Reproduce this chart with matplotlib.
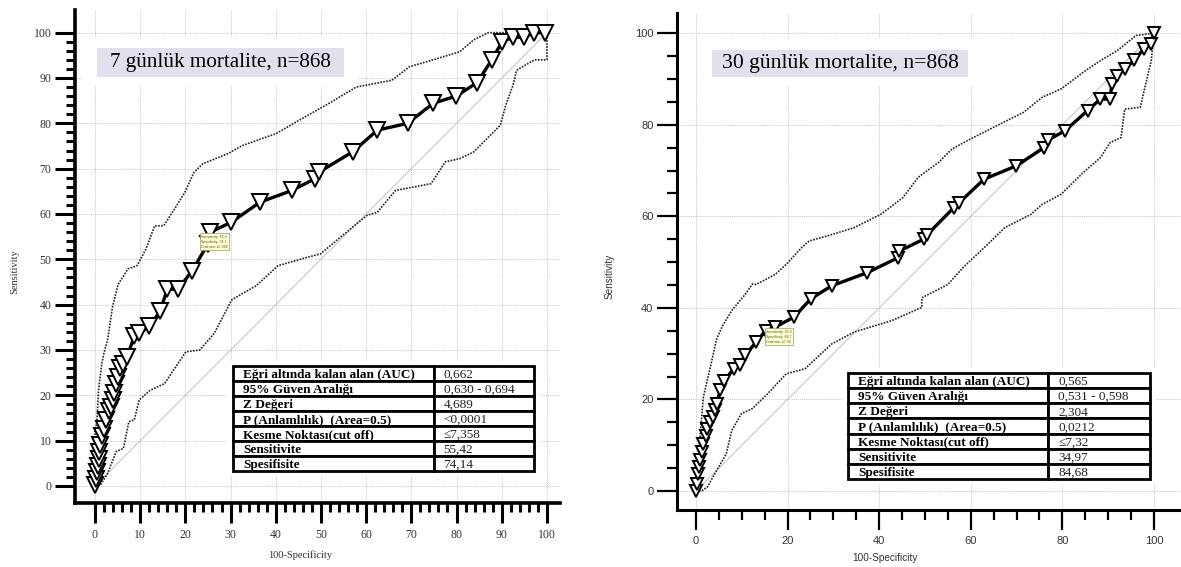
import numpy as np
import matplotlib
matplotlib.use('Agg')
import matplotlib.pyplot as plt
from matplotlib.patches import Rectangle
from matplotlib.ticker import MultipleLocator

# ---- 7 day ROC (x = 100-Specificity, y = Sensitivity) ----
roc7_x = [0, 0.2, 0.4, 0.6, 0.8, 1.0, 1.2, 1.6, 2.0, 2.4, 3.1, 3.5, 3.9, 4.3, 4.7, 5.1, 5.5,
          6.3, 7.1, 8.7, 9.8, 12.0, 14.4, 16.0, 18.4, 21.5, 25.0, 25.5, 30.2, 36.5, 43.6,
          48.7, 49.5, 57.0, 62.5, 69.2, 74.8, 79.9, 84.6, 87.8, 90.1, 92.5, 94.9, 97.2, 99.6]
roc7_y = [0.2, 1.5, 3.0, 4.5, 6.0, 7.5, 9.0, 11.0, 12.5, 14.6, 16.5, 17.5, 19.0, 20.5, 22.5, 24.0, 26.0,
          27.0, 28.5, 33.0, 33.7, 35.2, 38.5, 43.4, 43.4, 47.5, 53.4, 56.0, 58.2, 62.6, 65.2,
          67.8, 69.2, 73.7, 78.5, 80.0, 84.4, 86.0, 89.0, 94.0, 98.0, 99.0, 99.0, 100.0, 100.0]
up7_x = [0, 0, 0.4, 0.8, 1.5, 2.0, 2.8, 3.9, 5.1, 5.4, 7.3, 9.3, 11.3, 13.2, 15.2, 17.6, 19.9,
         21.9, 23.9, 29.4, 32.6, 40.0, 45.2, 52.3, 57.8, 65.7, 69.6, 74.8, 80.7, 83.8, 87.0, 100]
up7_y = [0, 12.0, 13.9, 21.3, 27.0, 29.3, 32.3, 39.6, 44.4, 44.9, 47.9, 48.6, 52.3, 57.4, 57.4, 61.1, 64.8,
         69.2, 71.1, 73.3, 75.1, 77.7, 80.7, 84.7, 88.0, 89.5, 92.5, 94.0, 95.8, 98.4, 100, 100]
lo7_x = [0, 1.2, 2.8, 4.7, 6.3, 7.5, 8.7, 9.8, 12.2, 15.4, 20.1, 23.2, 26.4, 30.3, 35.7, 40.5,
         46.8, 49.9, 54.7, 60.2, 62.5, 66.5, 74.4, 77.5, 80.7, 83.8, 87.8, 89.7, 90.9, 92.5,
         93.3, 97.2, 100, 100]
lo7_y = [0, 0.2, 2.8, 7.6, 8.3, 14.2, 14.6, 19.0, 21.1, 22.6, 29.6, 30.0, 33.7, 41.1, 44.2, 48.6,
         50.4, 51.2, 55.2, 59.7, 60.4, 65.2, 66.7, 71.5, 72.2, 73.7, 77.7, 79.6, 84.0, 88.4,
         91.7, 94.0, 94.0, 100]

# ---- 30 day ROC ----
roc30_x = [0, 0.2, 0.4, 0.6, 0.8, 1.2, 1.6, 2.1, 2.5, 3.1, 3.7, 4.1, 4.5, 5.3, 6.2, 8.2, 9.5,
           10.7, 13.1, 15.2, 17.3, 21.4, 25.1, 29.6, 37.4, 44.0, 44.4, 49.7, 50.5, 56.3, 57.5,
           62.9, 69.9, 76.0, 76.8, 80.6, 85.5, 88.3, 90.4, 90.8, 92.0, 93.6, 95.7, 97.8, 99.4, 100]
roc30_y = [0.1, 1.5, 3.8, 5.2, 6.7, 8.5, 10.3, 12.0, 13.6, 15.0, 16.1, 17.6, 19.1, 22.0, 24.1, 26.7, 27.5,
           29.6, 32.5, 35.0, 35.8, 38.0, 42.0, 44.8, 47.7, 50.9, 52.4, 55.0, 56.0, 61.9, 63.0,
           68.1, 71.0, 75.0, 76.6, 78.7, 83.1, 85.6, 85.6, 88.9, 90.7, 92.2, 94.1, 96.6, 97.7, 100]
up30_x = [0, 0, 0.8, 1.6, 3.3, 4.5, 5.8, 7.8, 10.7, 12.3, 13.1, 17.3, 19.7, 23.0, 24.7, 29.6, 34.5,
          40.3, 45.2, 48.5, 53.0, 55.9, 59.2, 65.7, 71.5, 75.6, 79.7, 84.6, 88.3, 92.0, 96.1, 100]
up30_y = [0, 2.3, 11.0, 20.5, 27.8, 33.2, 36.1, 39.4, 42.9, 45.2, 45.1, 47.3, 49.5, 53.1, 54.6, 56.0, 57.5,
          60.4, 64.1, 68.5, 71.8, 74.7, 76.5, 79.8, 82.7, 86.0, 87.8, 91.5, 94.0, 96.2, 99.5, 100]
lo30_x = [0, 1.2, 2.5, 4.1, 6.6, 7.8, 9.9, 12.3, 15.6, 19.7, 23.8, 29.6, 34.5, 42.7, 49.3, 49.3,
          55.0, 58.3, 63.3, 67.4, 73.1, 75.6, 79.7, 84.6, 88.3, 90.4, 92.8, 93.6, 97.0, 98.2, 99.4, 100]
lo30_y = [0, 0, 0.9, 3.8, 8.1, 13.2, 16.9, 18.0, 21.2, 25.6, 26.7, 32.1, 34.7, 37.2, 40.1, 42.2,
          45.1, 48.8, 53.5, 57.5, 60.4, 62.6, 64.8, 69.6, 72.8, 76.1, 77.2, 83.4, 83.8, 88.9, 94.0, 100]

row_labels = ['Eğri altında kalan alan (AUC)', '95% Güven Aralığı', 'Z Değeri',
              'P (Anlamlılık)  (Area=0.5)', 'Kesme Noktası(cut off)', 'Sensitivite', 'Spesifisite']
vals7 = ['0,662', '0,630 - 0,694', '4,689', '<0,0001', '≤7,358', '55,42', '74,14']
vals30 = ['0,565', '0,531 - 0,598', '2,304', '0,0212', '≤7,32', '34,97', '84,68']

title7 = '7 günlük mortalite, n=868'
title30 = '30 günlük mortalite, n=868'
tip7 = 'Sensitivity: 55.4\nSpecificity: 74.1\nCriterion: ≤7,358'
tip30 = 'Sensitivity: 35.0\nSpecificity: 84.7\nCriterion: ≤7.32'

SERIF = 'Liberation Serif'
SANS = 'Liberation Sans'
W, H = 1181, 567

fig = plt.figure(figsize=(W / 100, H / 100), dpi=100)


def px_axes(l, r, b, t):
    return fig.add_axes([l / W, (H - b) / H, (r - l) / W, (b - t) / H])


def draw_panel(ax, rx, ry, ux, uy, lx, ly, title, vals, tip, cfg):
    ax.set_xlim(cfg['xlim'])
    ax.set_ylim(cfg['ylim'])
    for s in ['top', 'right']:
        ax.spines[s].set_visible(False)
    for s in ['left', 'bottom']:
        ax.spines[s].set_linewidth(cfg['spine_w'])
    mj, mn = cfg['major'], cfg['minor']
    ax.set_xticks(np.arange(0, 101, mj))
    ax.set_yticks(np.arange(0, 101, mj))
    ax.set_xticks([v for v in np.arange(0, 101, mn) if v % mj], minor=True)
    ax.set_yticks([v for v in np.arange(0, 101, mn) if v % mj], minor=True)
    ax.tick_params(which='major', length=cfg['maj_len'], width=cfg['tick_w'], color='black',
                   labelsize=cfg['tick_fs'], labelcolor='#333333')
    ax.tick_params(which='minor', length=cfg['min_len'], width=cfg['tick_w'], color='black')
    ax.tick_params(axis='x', which='major', pad=4)
    ax.tick_params(axis='y', which='major', pad=2.5)
    for lab in ax.get_xticklabels() + ax.get_yticklabels():
        lab.set_fontfamily(cfg['font'])
    ax.grid(True, which='major', color='#c8c8c8', linestyle=(0, (1, 1)), linewidth=0.7, zorder=0)
    ax.set_axisbelow(True)

    ax.set_xlabel('100-Specificity', fontsize=cfg['lab_fs'], family=cfg['font'], color='#333333')
    ax.set_ylabel('Sensitivity', fontsize=cfg['lab_fs'], family=cfg['font'], color='#333333')
    ax.xaxis.set_label_coords(*cfg['xlab_pos'])
    ax.yaxis.set_label_coords(*cfg['ylab_pos'])

    # label box, with a white margin that hides the grid around it
    tb = cfg['title_box']
    ax.add_patch(Rectangle((tb[0] - 3, tb[2] - 2), tb[1] - tb[0] + 6, 98.8 - (tb[2] - 2),
                           facecolor='white', edgecolor='none', zorder=1))
    ax.add_patch(Rectangle((tb[0], tb[2]), tb[1] - tb[0], tb[3] - tb[2],
                           facecolor='#e4dfec', edgecolor='none', zorder=2))
    ax.text((tb[0] + tb[1]) / 2, (tb[2] + tb[3]) / 2, title, fontsize=cfg['title_fs'],
            family=SERIF, ha='center', va='center', zorder=3)

    # diagonal reference line
    ax.plot([0, 100], [0, 100], color='#c0c0c0', linewidth=0.7, zorder=1)
    # confidence bounds
    ax.plot(ux, uy, color='#222222', linestyle=(0, (1, 0.8)), linewidth=1.2, zorder=3)
    ax.plot(lx, ly, color='#222222', linestyle=(0, (1, 0.8)), linewidth=1.2, zorder=3)
    # ROC curve
    ax.plot(rx, ry, color='black', linewidth=2.4, zorder=4)
    ax.plot(rx, ry, linestyle='none', marker='v', markersize=cfg['ms'], markerfacecolor='white',
            markeredgecolor='black', markeredgewidth=1.4, zorder=5)

    # criterion tooltip
    tp = cfg['tip_pos']
    ax.text(tp[0], tp[1], tip, fontsize=2.6, family=SANS, color='#555500', va='top', ha='left',
            linespacing=1.3, zorder=6,
            bbox=dict(boxstyle='square,pad=0.4', facecolor='#ffffd8', edgecolor='#9a9a60', linewidth=0.5))

    # results table
    t0 = ax.transAxes.inverted().transform(ax.transData.transform((cfg['table'][0], cfg['table'][2])))
    t1 = ax.transAxes.inverted().transform(ax.transData.transform((cfg['table'][1], cfg['table'][3])))
    tx0, ty0 = t0
    tx1, ty1 = t1
    ax.add_patch(Rectangle((tx0 - 0.012, ty0 - 0.01), (tx1 - tx0) + 0.024, (ty1 - ty0) + 0.02,
                           transform=ax.transAxes, facecolor='white', edgecolor='none', zorder=6))
    cells = [[r, v] for r, v in zip(row_labels, vals)]
    c1 = cfg['table_div']
    table = ax.table(cellText=cells, colWidths=[c1, 1 - c1], cellLoc='left',
                     bbox=[tx0, ty0, tx1 - tx0, ty1 - ty0], zorder=7)
    table.auto_set_font_size(False)
    for (r, c), cell in table.get_celld().items():
        cell.set_linewidth(2.0)
        cell.set_edgecolor('black')
        cell.PAD = 0.05 if c == 0 else 0.1
        txt = cell.get_text()
        txt.set_fontfamily(SERIF)
        txt.set_fontsize(cfg['table_fs'])
        txt.set_va('center_baseline')
        if c == 0:
            txt.set_fontweight('bold')
        else:
            txt.set_color('#222222')


cfg7 = dict(xlim=(-4.42, 102.9), ylim=(-3.75, 105), spine_w=2.6, major=10, minor=2,
            maj_len=14.5, min_len=6.5, tick_w=2.2, tick_fs=8.5, font=SERIF, lab_fs=7.5,
            xlab_pos=(0.464, -0.095), ylab_pos=(-0.115, 0.47),
            title_box=(0.4, 55.1, 90.3, 96.7), title_fs=15.2, ms=11,
            tip_pos=(23.5, 55.4), table=(30.5, 97.1, 3.3, 26.5), table_div=0.667, table_fs=9.5)
cfg30 = dict(xlim=(-4.15, 105.9), ylim=(-4.15, 104.4), spine_w=2.2, major=20, minor=5,
             maj_len=14.5, min_len=7.2, tick_w=1.6, tick_fs=8, font=SANS, lab_fs=7.2,
             xlab_pos=(0.413, -0.087), ylab_pos=(-0.123, 0.47),
             title_box=(3.5, 59.4, 90.4, 96.3), title_fs=15.6, ms=9,
             tip_pos=(15.3, 35.2), table=(33.2, 99.1, 2.6, 25.8), table_div=0.662, table_fs=9.5)

ax1 = px_axes(75, 560, 503, 10)
draw_panel(ax1, roc7_x, roc7_y, up7_x, up7_y, lo7_x, lo7_y, title7, vals7, tip7, cfg7)
ax2 = px_axes(677, 1181, 510, 13)
draw_panel(ax2, roc30_x, roc30_y, up30_x, up30_y, lo30_x, lo30_y, title30, vals30, tip30, cfg30)

fig.savefig('out.png', dpi=100)
